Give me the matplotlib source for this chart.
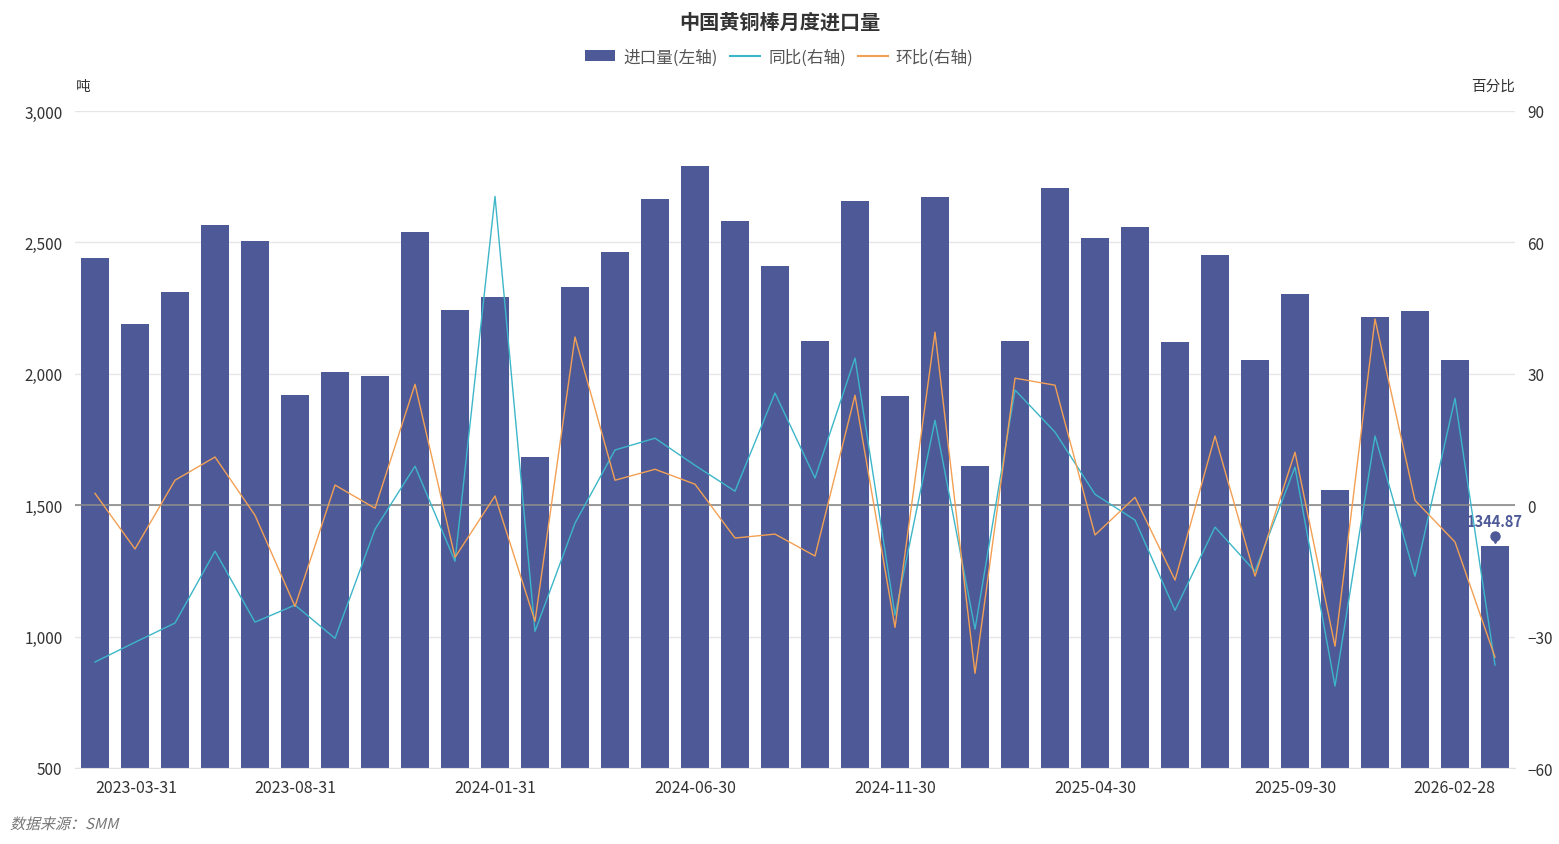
import numpy as np
import matplotlib.pyplot as plt
import matplotlib.transforms as mtransforms
from matplotlib.patches import Patch, PathPatch
from matplotlib.lines import Line2D
from matplotlib.textpath import TextPath
from matplotlib.font_manager import FontProperties

plt.rcParams['font.family'] = ['Noto Sans CJK SC', 'DejaVu Sans']

# 月份（月末日期）
dates = ['2023-03-31', '2023-04-30', '2023-05-31', '2023-06-30', '2023-07-31', '2023-08-31',
         '2023-09-30', '2023-10-31', '2023-11-30', '2023-12-31', '2024-01-31', '2024-02-29',
         '2024-03-31', '2024-04-30', '2024-05-31', '2024-06-30', '2024-07-31', '2024-08-31',
         '2024-09-30', '2024-10-31', '2024-11-30', '2024-12-31', '2025-01-31', '2025-02-28',
         '2025-03-31', '2025-04-30', '2025-05-31', '2025-06-30', '2025-07-31', '2025-08-31',
         '2025-09-30', '2025-10-31', '2025-11-30', '2025-12-31', '2026-01-31', '2026-02-28']

# 进口量 (吨)
imports = [2440, 2189, 2311, 2566, 2505, 1919, 2007, 1992, 2540, 2243, 2292, 1683,
           2330, 2463, 2665, 2791, 2581, 2410, 2125, 2658, 1916, 2673, 1649, 2125,
           2707, 2517, 2559, 2121, 2452, 2053, 2304, 1558, 2216, 2239, 2053, 1344.87]

# 同比 (%)
yoy = [-35.8, -31.3, -26.9, -10.5, -26.7, -22.8, -30.4, -5.5, 8.9, -12.8, 70.5, -28.8,
       -4.1, 12.6, 15.3, 9.1, 3.2, 25.6, 6.2, 33.6, -25.1, 19.4, -28.3, 26.3,
       16.7, 2.5, -3.4, -24.0, -5.0, -15.1, 8.7, -41.3, 15.8, -16.2, 24.4, -36.5]

# 环比 (%)
mom = [2.7, -10.0, 5.7, 11.0, -2.3, -23.1, 4.6, -0.7, 27.6, -11.9, 2.1, -26.5,
       38.4, 5.7, 8.2, 4.8, -7.5, -6.6, -11.6, 25.1, -27.9, 39.5, -38.4, 29.0,
       27.4, -6.8, 1.8, -17.1, 15.8, -16.2, 12.1, -32.2, 42.5, 1.1, -8.4, -34.7]

bar_color = '#4e5a98'
yoy_color = '#3db6c9'
mom_color = '#f2a054'
text_color = '#333333'

W, H = 1559, 845
fig = plt.figure(figsize=(W / 100, H / 100), dpi=100)
ax = fig.add_axes([75 / W, (H - 769) / H, 1440 / W, 657 / H])
ax2 = ax.twinx()

x = np.arange(len(dates))
ax.bar(x, imports, width=0.7, color=bar_color, zorder=2)
ax.set_xlim(-0.5, len(dates) - 0.5)
ax.set_ylim(500, 3000)
ax.set_yticks(np.arange(500, 3001, 500))
ax.set_yticklabels([f'{v:,}' for v in range(500, 3001, 500)])
ax.grid(axis='y', color='#e6e6e6', linewidth=1, zorder=0)
ax.set_axisbelow(True)

ax2.plot(x, yoy, color=yoy_color, linewidth=1, zorder=3)
ax2.plot(x, mom, color=mom_color, linewidth=1, zorder=3)
ax2.set_ylim(-60, 90)
ax2.set_yticks(np.arange(-60, 91, 30))
ax2.axhline(0, color='#8a8a8a', linewidth=1.2, zorder=1)

for a in (ax, ax2):
    for s in a.spines.values():
        s.set_visible(False)
    a.tick_params(length=0, labelsize=11, labelcolor=text_color)
ax.spines['bottom'].set_visible(True)
ax.spines['bottom'].set_color('#e0e0e0')
ax.tick_params(axis='y', pad=9)
ax2.tick_params(axis='y', pad=9)

# x 轴标签：每 5 个显示一个，首尾对齐
tick_idx = list(range(0, len(dates), 5))
ax.set_xticks(tick_idx)
ax.set_xticklabels([dates[i] for i in tick_idx])
ax.tick_params(axis='x', pad=8, labelsize=11.5)
labels = ax.get_xticklabels()
labels[0].set_horizontalalignment('left')
labels[-1].set_horizontalalignment('right')

# 最后一根柱子的数据标签
last = len(dates) - 1
ax.annotate(f'{imports[last]:.2f}', (x[last], imports[last]), xytext=(0, 12),
            textcoords='offset points', ha='center', va='bottom',
            fontsize=10.5, fontweight='bold', color=bar_color, zorder=5)
pin = mtransforms.offset_copy(ax.transData, fig=fig, x=0, y=7, units='points')
ax.plot([x[last]], [imports[last]], marker='o', markersize=6.5, color=bar_color,
        transform=pin, clip_on=False, zorder=5)
pin2 = mtransforms.offset_copy(ax.transData, fig=fig, x=0, y=4, units='points')
ax.plot([x[last]], [imports[last]], marker='v', markersize=4.5, color=bar_color,
        transform=pin2, clip_on=False, zorder=5)

fig.text(76 / W, 1 - 87 / H, '吨', fontsize=10.5, color=text_color, va='center', ha='left')
fig.text(1515 / W, 1 - 87 / H, '百分比', fontsize=10.5, color=text_color, va='center', ha='right')

fig.text(0.5, 1 - 22 / H, '中国黄铜棒月度进口量', fontsize=14.5, fontweight='bold',
         color=text_color, ha='center', va='center')

handles = [Patch(facecolor=bar_color, edgecolor='none'),
           Line2D([], [], color=yoy_color, linewidth=1.5),
           Line2D([], [], color=mom_color, linewidth=1.5)]
fig.legend(handles, ['进口量(左轴)', '同比(右轴)', '环比(右轴)'], loc='center',
           bbox_to_anchor=(0.5, 1 - 58 / H), ncol=3, frameon=False, fontsize=12,
           handlelength=1.8, handleheight=0.6, handletextpad=0.5, columnspacing=0.7,
           labelcolor='#555555')

# 数据来源（斜体，CJK 字体没有斜体，用倾斜路径代替）
src = TextPath((0, 0), '数据来源：SMM', size=15,
               prop=FontProperties(family='Noto Sans CJK SC'))
src_tr = mtransforms.Affine2D().skew_deg(14, 0).translate(10, H - 830)
fig.patches.append(PathPatch(src, transform=src_tr, facecolor='#777777',
                             edgecolor='none', figure=fig))

fig.savefig('out.png', dpi=100)
